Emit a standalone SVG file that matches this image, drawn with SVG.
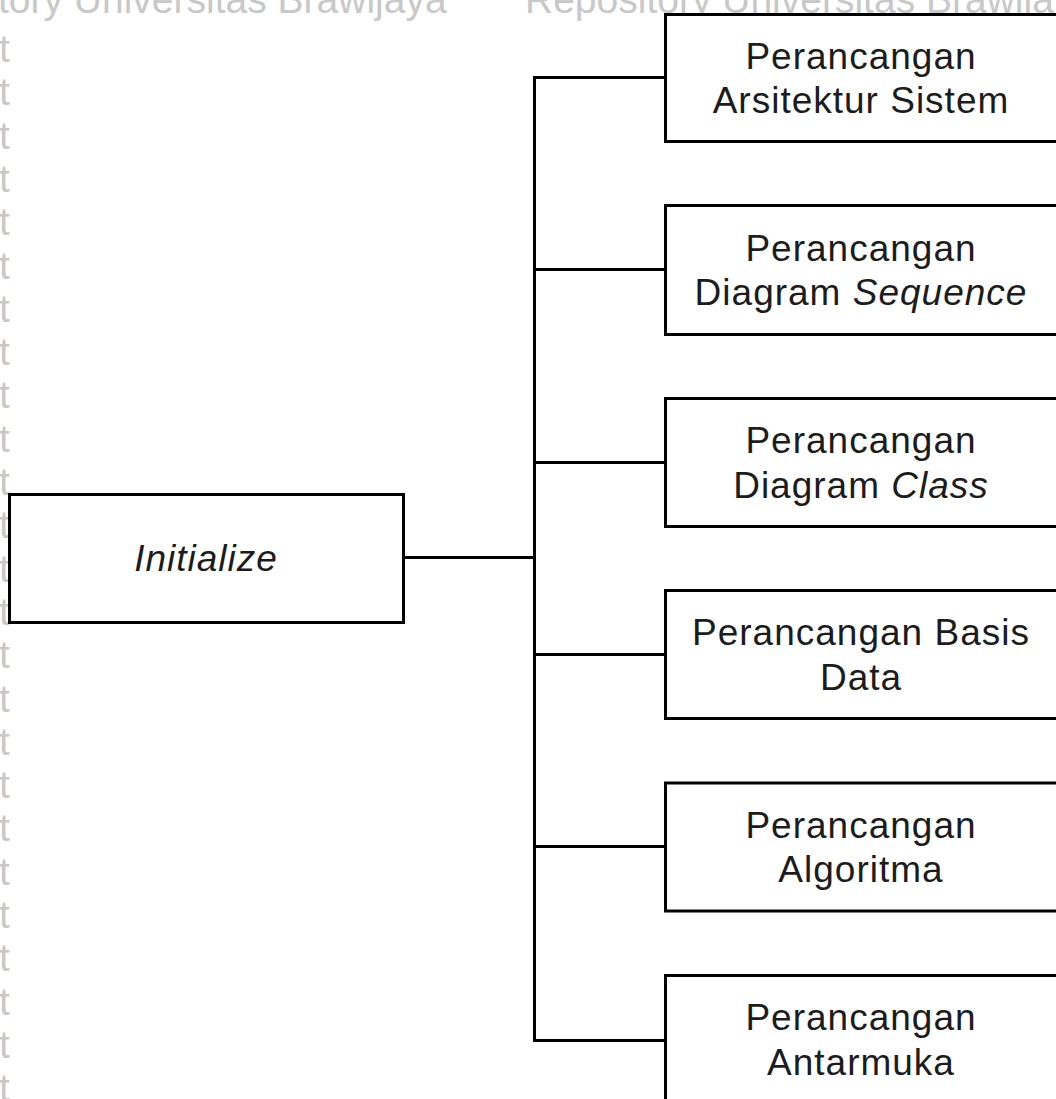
<svg xmlns="http://www.w3.org/2000/svg" width="1056" height="1099" viewBox="0 0 1056 1099">
  <style>
    .box { fill: #ffffff; stroke: #000000; stroke-width: 3; }
    .wire { fill: none; stroke: #000000; stroke-width: 3; stroke-linecap: square; }
    .lbl { font-family: "Liberation Sans", Arial, sans-serif; font-size: 37px; letter-spacing: 1px; fill: #1c1c1c; text-anchor: middle; }
    .it { font-style: italic; }
    .wm { font-family: "Liberation Sans", Arial, sans-serif; font-size: 39px; fill: #c8c8c8; }
  </style>

  <rect width="1056" height="1099" fill="#ffffff"/>

  <!-- background watermark -->
  <g id="watermark">
    <text class="wm" x="-2" y="13">tory Universitas Brawijaya</text>
    <text class="wm" x="525" y="13">Repository Universitas Brawijaya</text>
    <text class="wm" x="-1" y="62">t</text>
    <text class="wm" x="-1" y="105.3">t</text>
    <text class="wm" x="-1" y="148.6">t</text>
    <text class="wm" x="-1" y="191.9">t</text>
    <text class="wm" x="-1" y="235.2">t</text>
    <text class="wm" x="-1" y="278.5">t</text>
    <text class="wm" x="-1" y="321.8">t</text>
    <text class="wm" x="-1" y="365.1">t</text>
    <text class="wm" x="-1" y="408.4">t</text>
    <text class="wm" x="-1" y="451.7">t</text>
    <text class="wm" x="-1" y="495">t</text>
    <text class="wm" x="-1" y="538.3">t</text>
    <text class="wm" x="-1" y="581.6">t</text>
    <text class="wm" x="-1" y="624.9">t</text>
    <text class="wm" x="-1" y="668.2">t</text>
    <text class="wm" x="-1" y="711.5">t</text>
    <text class="wm" x="-1" y="754.8">t</text>
    <text class="wm" x="-1" y="798.1">t</text>
    <text class="wm" x="-1" y="841.4">t</text>
    <text class="wm" x="-1" y="884.7">t</text>
    <text class="wm" x="-1" y="928">t</text>
    <text class="wm" x="-1" y="971.3">t</text>
    <text class="wm" x="-1" y="1014.6">t</text>
    <text class="wm" x="-1" y="1057.9">t</text>
    <text class="wm" x="-1" y="1101.2">t</text>
  </g>

  <!-- connectors: trunk plus one branch per design step -->
  <g id="connectors">
    <path class="wire" d="M403.5 557.5 H534.5"/>
    <path class="wire" d="M534.5 77.5 V1040.5"/>
    <path class="wire" d="M534.5 77.5 H665.5"/>
    <path class="wire" d="M534.5 269.5 H665.5"/>
    <path class="wire" d="M534.5 462.5 H665.5"/>
    <path class="wire" d="M534.5 654.5 H665.5"/>
    <path class="wire" d="M534.5 846.5 H665.5"/>
    <path class="wire" d="M534.5 1040.5 H665.5"/>
  </g>

  <g id="initialize">
    <rect class="box" x="9.5" y="494.5" width="394" height="128"/>
    <text class="lbl it" x="206" y="570.5">Initialize</text>
  </g>

  <g id="arsitektur">
    <rect class="box" x="665.5" y="14.5" width="394" height="127"/>
    <text class="lbl" x="861" y="68.5">Perancangan</text>
    <text class="lbl" x="861" y="113">Arsitektur Sistem</text>
  </g>

  <g id="sequence">
    <rect class="box" x="665.5" y="205.5" width="394" height="129"/>
    <text class="lbl" x="861" y="260.5">Perancangan</text>
    <text class="lbl" x="861" y="305">Diagram <tspan class="it">Sequence</tspan></text>
  </g>

  <g id="class">
    <rect class="box" x="665.5" y="398.5" width="394" height="128"/>
    <text class="lbl" x="861" y="453">Perancangan</text>
    <text class="lbl" x="861" y="497.5">Diagram <tspan class="it">Class</tspan></text>
  </g>

  <g id="basis-data">
    <rect class="box" x="665.5" y="590.5" width="394" height="128"/>
    <text class="lbl" x="861" y="645">Perancangan Basis</text>
    <text class="lbl" x="861" y="689.5">Data</text>
  </g>

  <g id="algoritma">
    <rect class="box" x="665.5" y="783" width="394" height="128"/>
    <text class="lbl" x="861" y="837.5">Perancangan</text>
    <text class="lbl" x="861" y="882">Algoritma</text>
  </g>

  <g id="antarmuka">
    <rect class="box" x="665.5" y="975.5" width="394" height="140"/>
    <text class="lbl" x="861" y="1030">Perancangan</text>
    <text class="lbl" x="861" y="1074.5">Antarmuka</text>
  </g>
</svg>
